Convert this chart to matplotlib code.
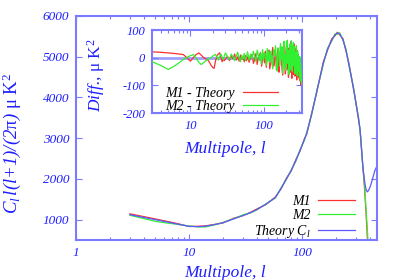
import matplotlib
matplotlib.use('Agg')
import matplotlib.pyplot as plt
from matplotlib.ticker import NullFormatter, LogLocator

plt.rcParams['font.family'] = ['Liberation Serif', 'DejaVu Serif']
plt.rcParams['mathtext.fontset'] = 'custom'
plt.rcParams['mathtext.rm'] = 'Liberation Serif'
plt.rcParams['mathtext.it'] = 'Liberation Serif:italic'
plt.rcParams['axes.unicode_minus'] = False

# power spectrum, theory curve
l_th = [3, 4, 5, 6, 7, 8, 10, 12, 14, 17, 20, 25, 30, 35, 40, 48, 58, 65, 73, 80,
        88, 96, 105, 110, 122, 135, 154, 168, 183, 195, 205, 215, 230, 245, 260,
        284, 300, 315, 326, 344, 352, 360, 368, 378, 390, 405, 420, 440, 464]
cl_th = [1120, 1052, 1000, 956, 920, 887, 835, 825, 838, 880, 925, 1020, 1100, 1170,
         1250, 1380, 1540, 1760, 2010, 2200, 2450, 2700, 2970, 3120, 3610, 4150, 4840,
         5180, 5410, 5530, 5580, 5560, 5420, 5150, 4800, 4250, 3850, 3500, 3200, 2340,
         2080, 1880, 1740, 1680, 1730, 1850, 2000, 2200, 2340]

# measured maps M1, M2
l_m1 = [3, 4, 5, 6, 7, 8, 10, 12, 14, 17, 20, 25, 30, 35, 40, 48, 58, 65, 73, 80,
        88, 96, 105, 110, 122, 135, 154, 168, 183, 195, 205, 215, 230, 245, 260,
        284, 300, 315, 326, 344, 352, 360, 368, 374, 380]
cl_m1 = [1142, 1072, 1018, 972, 934, 899, 830, 837, 846, 884, 917, 1038, 1096, 1180,
         1264, 1372, 1556, 1748, 2026, 2190, 2470, 2686, 2990, 3100, 3630, 4130, 4870,
         5160, 5440, 5510, 5600, 5540, 5440, 5130, 4830, 4230, 3870, 3470, 3210, 2330,
         2000, 1600, 1150, 800, 420]
l_m2 = [3, 4, 5, 6, 7, 8, 10, 12, 14, 17, 20, 25, 30, 35, 40, 48, 58, 65, 73, 80,
        88, 96, 105, 110, 122, 135, 154, 168, 183, 195, 205, 215, 230, 245, 260,
        284, 300, 315, 326, 344, 352, 360, 368, 376, 384]
cl_m2 = [1106, 1024, 958, 926, 902, 881, 843, 823, 820, 874, 931, 1024, 1118, 1164,
         1240, 1390, 1530, 1776, 1996, 2220, 2430, 2720, 2950, 3140, 3590, 4170, 4810,
         5210, 5380, 5560, 5550, 5590, 5400, 5180, 4770, 4270, 3830, 3530, 3180, 2350,
         2050, 1700, 1250, 850, 420]

# differences to theory (inset)
l_diff = [3, 4, 5, 6, 7, 8, 9, 10, 11, 12, 13, 14, 15, 16, 17, 18, 19, 20, 21, 22,
          23, 24, 25, 26, 27, 28, 29, 30,
          32, 34, 36, 38, 40, 42, 44, 46, 48, 50, 52, 54, 56, 58, 60,
          63, 66, 69, 72, 75, 78, 81, 84, 87, 90, 93, 96, 99, 102, 105, 108, 111,
          114, 117, 120,
          124, 128, 132, 136, 140, 144, 148, 152, 156, 160, 164, 168, 172, 176, 180,
          184, 188, 192, 196, 200, 204, 208, 212, 216, 220, 224, 228, 232, 236, 240,
          244, 248, 252, 256, 260, 264, 268, 272, 276, 280, 284, 288, 292, 296, 300,
          304, 308, 312, 316, 320, 324, 328]
d_m1 = [22, 20, 18, 16, 14, 12, 0, -12, 2, 12, 18, 10, 2, -3, -6, -14, -26, -34, -38, -10,
        8, 14, 18, 2, -14, -6, -10, -4,
        6, -10, 8, -4, 14, -8, 4, -12, 10, -6, 2, -14, 8, -10, 4,
        -16, 4, 12, -20, -4, 16, -24, 2, 10, 20, -30, -8, 14, -18, 24, -34, 8,
        -6, 28, -40,
        -20, 10, 38, -30, -8, 24, -44, 6, 30, -52, -18, 40, 12, -36, -62,
        22, 48, -10, -58, 30, 54, -40, -6, -70, 36, 14, -52, 58, -28, -74,
        20, 44, -60, -12, 50, -66, 6, 34, -48, -80, 26, -30, 12, -72, -18,
        -56, -4, -84, -40, -100, -70, -135]
d_m2 = [-14, -28, -42, -30, -18, -6, 2, 8, 12, -2, -16, -24, -18, -12, -6, -2, 0, 6, 10, 12,
        2, -8, 4, 14, 2, -6, 8, 18,
        4, -6, 14, 2, -10, 6, 20, -2, -14, 10, -4, 16, -10, 4, 22,
        -8, 14, -4, 24, 6, -14, 28, 10, -10, 18, -22, 30, -6, 20, 4, -28, 34,
        -12, 26, -16,
        24, -14, -40, 30, 8, 44, -22, -48, 36, 16, -30, 52, -8, 40, -56,
        20, 60, -34, 10, -46, 46, 64, -20, 28, -60, 50, -4, -44, 62, 30,
        -50, 12, 56, -28, 40, -58, 18, -36, 44, -10, -64, 24, -48, 8, -30,
        -70, 4, -54, -20, -84, -50, -95]

RED = '#ff3030'
GREEN = '#30f030'
BLUE = '#5a5aff'
AXC = '#7b7bff'
TXT = '#1e1eff'

fig = plt.figure(figsize=(4, 2.8), dpi=100)
ax = fig.add_axes([0.19, 0.143, 0.7525, 0.8])

ax.plot(l_m1, cl_m1, color=RED, lw=0.9, label='M1')
ax.plot(l_m2, cl_m2, color=GREEN, lw=0.9, label='M2')
ax.plot(l_th, cl_th, color=BLUE, lw=0.9, label='Theory $C_l$')

ax.set_xscale('log')
ax.set_xlim(1, 460)
ax.set_ylim(500, 6000)
ax.set_xticks([1, 10, 100])
ax.set_xticklabels(['1', '10', '100'])
ax.xaxis.set_minor_locator(LogLocator(base=10, subs=range(2, 10)))
ax.xaxis.set_minor_formatter(NullFormatter())
ax.set_yticks([1000, 2000, 3000, 4000, 5000, 6000])

ax.set_xlabel('Multipole, l', fontsize=12.5, style='italic', color=TXT)
ax.set_ylabel(r'$C_l\,$l(l+1)/(2$\mathrm{\pi}$) $\mathrm{\mu\ K}^2$',
              fontsize=13.5, style='italic', color=TXT)
ax.xaxis.set_label_coords(0.495, -0.11)
ax.yaxis.set_label_coords(-0.175, 0.43)

leg = ax.legend(loc='lower right', bbox_to_anchor=(0.95, -0.03), frameon=False,
                markerfirst=False, fontsize=10, handlelength=2.7,
                handletextpad=0.5, labelspacing=0.05, borderpad=0)
for t in leg.get_texts():
    t.set_style('italic')

# inset with differences
ins = fig.add_axes([0.38, 0.596, 0.375, 0.296])
ins.axhline(0, color='#a0a0ff', lw=2, zorder=1)
ins.plot(l_diff, d_m1, color=RED, lw=0.9, label='M1 - Theory', zorder=2)
ins.plot(l_diff, d_m2, color=GREEN, lw=0.9, label='M2 - Theory', zorder=3)
ins.set_xscale('log')
ins.set_xlim(3, 330)
ins.set_ylim(-200, 100)
ins.set_xticks([10, 100])
ins.set_xticklabels(['10', '100'])
ins.xaxis.set_minor_locator(LogLocator(base=10, subs=range(2, 10)))
ins.xaxis.set_minor_formatter(NullFormatter())
ins.set_yticks([-200, -100, 0, 100])
ins.set_xlabel('Multipole, l', fontsize=12.5, style='italic', color=TXT)
ins.set_ylabel(r'Diff., $\mathrm{\mu\ K}^2$', fontsize=12.5, style='italic', color=TXT)
ins.xaxis.set_label_coords(0.49, -0.337)
ins.yaxis.set_label_coords(-0.30, 0.46)

leg2 = ins.legend(loc='lower right', bbox_to_anchor=(0.887, -0.08), frameon=False,
                  markerfirst=False, fontsize=10, handlelength=2.5,
                  handletextpad=0.65, labelspacing=0.0, borderpad=0)
for t in leg2.get_texts():
    t.set_style('italic')

for a, fs in ((ax, 9.5), (ins, 9)):
    for s in a.spines.values():
        s.set_color(AXC)
        s.set_linewidth(1.5)
    a.tick_params(which='both', direction='in', top=True, right=True,
                  color=AXC, labelcolor=TXT, labelsize=fs)
    a.tick_params(which='major', length=4, width=0.8, pad=5)
    a.tick_params(which='minor', length=2.5, width=0.8)
    for lab in a.get_xticklabels() + a.get_yticklabels():
        lab.set_style('italic')

fig.savefig('out.png', dpi=100)
